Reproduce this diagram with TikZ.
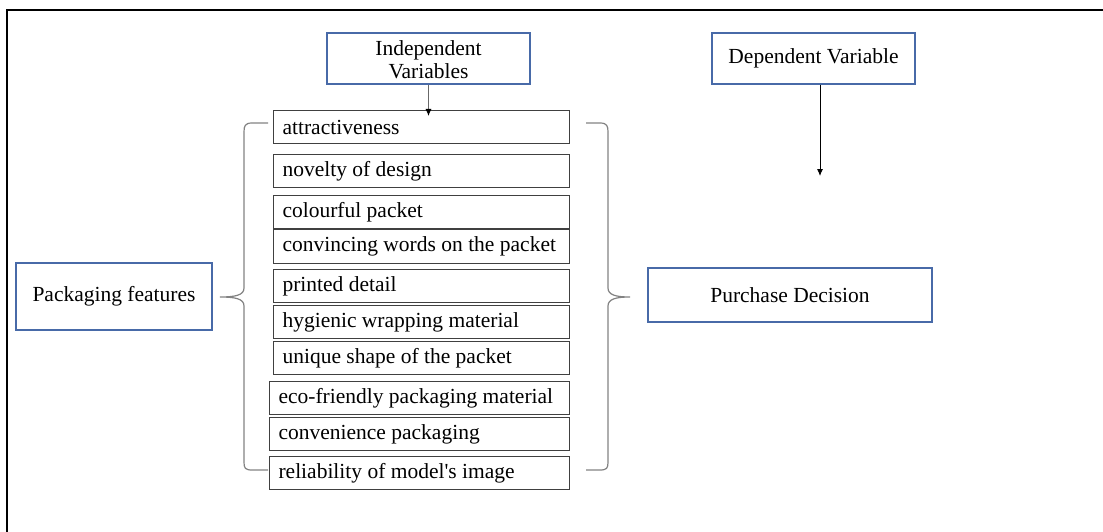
\documentclass[tikz,border=0pt]{standalone}
\usepackage{fontspec}
\setmainfont{Liberation Serif}
\usetikzlibrary{arrows.meta}
\definecolor{varblue}{RGB}{72,106,168}
\definecolor{boxgray}{RGB}{64,64,64}
\definecolor{brcgray}{RGB}{130,130,130}

\begin{document}
\begin{tikzpicture}[x=1pt, y=-1pt,
    var/.style={rectangle, draw=varblue, line width=1.4pt, inner sep=0pt,
                align=center, font=\fontsize{21.5}{23}\selectfont},
    item/.style={rectangle, draw=boxgray, line width=1.1pt, inner ysep=0pt,
                 inner xsep=9pt, font=\fontsize{21.5}{23}\selectfont},
    brc/.style={draw=brcgray, line width=1.2pt},
    arr/.style={draw=black, line width=0.9pt, -{Latex[length=7pt,width=6pt,color=black]}}]
  \useasboundingbox (0,0) rectangle (1103,532);
  % outer frame (only top and left edges show)
  \draw[line width=1.5pt] (7,532) -- (7,10) -- (1103,10);
  % --- variable boxes --------------------------------------------------------
  \node[var, minimum width=203pt, minimum height=51pt] (iv) at (428.5,58.5)
    {\raisebox{-1.5pt}[\height][\depth]{\shortstack{Independent\\[0.5pt]Variables}}};
  \node[var, minimum width=203pt, minimum height=51pt] (dv) at (813.5,58.5)
    {Dependent Variable};
  \node[var, minimum width=196pt, minimum height=67pt] (pf) at (114,296.5)
    {Packaging features};
  \node[var, minimum width=284pt, minimum height=54pt] (pd) at (790,295)
    {Purchase Decision};
  % --- the list of features --------------------------------------------------
  \foreach \n/\l/\t/\b/\txt in {
      1/273/110/143/attractiveness,
      2/273/154/187/novelty of design,
      3/273/195/228/colourful packet,
      4/273/229/263/convincing words on the packet,
      5/273/269/302/printed detail,
      6/273/305/338/hygienic wrapping material,
      7/273/341/374/unique shape of the packet,
      8/269/381/414/eco-friendly packaging material,
      9/269/417/450/convenience packaging,
      10/269/456/489/reliability of model\textquotesingle s image} {
    \pgfmathsetmacro\itw{569-\l-18}
    \pgfmathsetmacro\ith{\b-\t}
    \node[item, anchor=north west, minimum height=\ith pt]
      (i\n) at (\l,\t) {\makebox[\itw pt][l]{\txt}}; }
  % --- arrows ----------------------------------------------------------------
  \draw[arr, draw=brcgray!80!black] (iv.south) -- ([yshift=-6pt]iv.south |- i1.north);
  \coordinate (dvend) at (820,176);
  \draw[arr] (dv.south -| dvend) -- (dvend);
  % --- braces ----------------------------------------------------------------
  \draw[brc] (268,123) -- (252,123) .. controls (245,123) and (244,126) .. (244,132)
    -- (244,288) .. controls (244,295) and (236,297) .. (220,297)
    .. controls (236,297) and (244,299) .. (244,306)
    -- (244,462) .. controls (244,468) and (245,470) .. (252,470) -- (268,470);
  \draw[brc] (586,123) -- (600,123) .. controls (607,123) and (608,126) .. (608,132)
    -- (608,288) .. controls (608,295) and (616,297) .. (630,297)
    .. controls (616,297) and (608,299) .. (608,306)
    -- (608,462) .. controls (608,468) and (607,470) .. (600,470) -- (586,470);
\end{tikzpicture}
\end{document}
